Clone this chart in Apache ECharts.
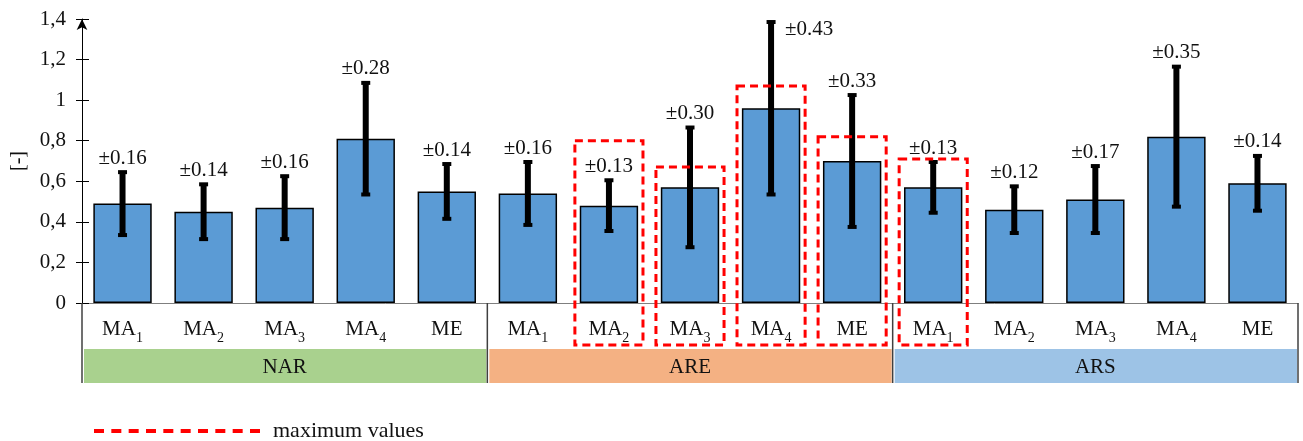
<!DOCTYPE html>
<html>
<head>
<meta charset="utf-8">
<script src="https://cdn.jsdelivr.net/npm/echarts@6/dist/echarts.min.js"></script>
<style>
  html, body { margin: 0; padding: 0; background: #fff; }
  #chart { width: 1303px; height: 441px; }
</style>
</head>
<body>
<div id="chart"></div>
<script>
// Groups and methods along the x axis
const groups = ['NAR', 'ARE', 'ARS'];
const groupColors = ['#a9d18e', '#f4b183', '#9dc3e6'];
const methods = ['MA1', 'MA2', 'MA3', 'MA4', 'ME'];

// Mean values per group
const narMeans = [0.49, 0.45, 0.47, 0.81, 0.55];
const areMeans = [0.54, 0.48, 0.57, 0.96, 0.70];
const arsMeans = [0.57, 0.46, 0.51, 0.82, 0.59];

// Standard deviations per group (±)
const narErr = [0.16, 0.14, 0.16, 0.28, 0.14];
const areErr = [0.16, 0.13, 0.30, 0.43, 0.33];
const arsErr = [0.13, 0.12, 0.17, 0.35, 0.14];

// Bars outlined as maximum values: category index and upper edge of the outline
const maxIdx = [6, 7, 8, 9, 10];
const maxTop = [0.80, 0.67, 1.07, 0.82, 0.71];

const yMin = 0, yMax = 1.4, yStep = 0.2;
const FONT = '"Liberation Serif", "Times New Roman", serif';

const categories = [].concat(methods, methods, methods);
const means = [].concat(narMeans, areMeans, arsMeans);
const errs = [].concat(narErr, areErr, arsErr);

const errData = means.map((m, i) => [i, m - errs[i], m + errs[i], errs[i]]);
const groupData = groups.map((g, k) => [k * methods.length, (k + 1) * methods.length - 1, k]);
const maxData = maxIdx.map((idx, k) => [idx, maxTop[k]]);

function catLabel(v) {
  const base = v.slice(0, 2);
  const sub = v.slice(2);
  return sub ? '{m|' + base + '}{s|' + sub + '}' : '{m|' + base + '}';
}

// Dashed stroke used as the legend symbol
function dashIcon() {
  let d = 'path://';
  const n = 10, dash = 10, period = (166 - dash) / (n - 1);
  for (let k = 0; k < n; k++) {
    const x = (k * period).toFixed(2);
    d += 'M' + x + ',0h' + dash + 'v4h-' + dash + 'z';
  }
  return d;
}

const chart = echarts.init(document.getElementById('chart'));

chart.setOption({
  animation: false,
  backgroundColor: '#fff',
  grid: { left: 82, right: 5, top: 19, bottom: 138, outerBoundsMode: 'none' },
  legend: {
    left: 89,
    top: 415,
    itemWidth: 166,
    itemHeight: 4,
    data: [{ name: 'maximum values', icon: dashIcon() }],
    itemStyle: { color: '#ff0000', borderWidth: 0 },
    textStyle: { fontFamily: FONT, fontSize: 22, color: '#111', padding: [0, 0, 0, 8] }
  },
  xAxis: {
    type: 'category',
    data: categories,
    axisLine: { lineStyle: { color: '#7f7f7f', width: 1 } },
    axisTick: { show: false },
    axisLabel: {
      margin: 16,
      interval: 0,
      formatter: catLabel,
      rich: {
        m: { fontFamily: FONT, fontSize: 21, color: '#111', lineHeight: 26, verticalAlign: 'top' },
        s: { fontFamily: FONT, fontSize: 14, color: '#111', lineHeight: 26, verticalAlign: 'bottom' }
      }
    }
  },
  yAxis: [
    {
      type: 'value',
      min: yMin,
      max: yMax,
      interval: yStep,
      name: '[-]',
      nameLocation: 'middle',
      nameRotate: 90,
      nameGap: 50,
      nameTextStyle: { fontFamily: FONT, fontSize: 20, color: '#111' },
      axisLine: {
        show: true,
        symbol: ['none', 'arrow'],
        symbolSize: [8, 11],
        lineStyle: { color: '#000', width: 1 }
      },
      axisTick: { show: true, length: 6, lineStyle: { color: '#000' } },
      axisLabel: {
        margin: 16,
        fontFamily: FONT,
        fontSize: 21,
        color: '#111',
        formatter: v => String(+v.toFixed(1)).replace('.', ',')
      },
      splitLine: { show: false }
    },
    {
      // inward half of the crossing tick marks
      type: 'value',
      min: yMin,
      max: yMax,
      interval: yStep,
      position: 'left',
      axisLine: { show: false },
      axisTick: { show: true, inside: true, length: 7, lineStyle: { color: '#000' } },
      axisLabel: { show: false },
      splitLine: { show: false }
    }
  ],
  series: [
    {
      type: 'bar',
      name: 'mean',
      data: means,
      barCategoryGap: '28%',
      itemStyle: { color: '#5b9bd5', borderColor: '#000', borderWidth: 1.5 },
      z: 2
    },
    {
      type: 'custom',
      name: 'deviation',
      data: errData,
      clip: false,
      z: 4,
      renderItem: function (params, api) {
        const i = api.value(0);
        const lo = api.coord([i, api.value(1)]);
        const hi = api.coord([i, api.value(2)]);
        const x = hi[0];
        const lw = 6, capW = 9, capH = 4;
        const err = api.value(3);
        const nearTop = api.value(2) + 0.1 > yMax;
        return {
          type: 'group',
          children: [
            { type: 'rect', shape: { x: x - lw / 2, y: hi[1], width: lw, height: lo[1] - hi[1] }, style: { fill: '#000' } },
            { type: 'rect', shape: { x: x - capW / 2, y: hi[1] - 1, width: capW, height: capH }, style: { fill: '#000' } },
            { type: 'rect', shape: { x: x - capW / 2, y: lo[1] - capH + 1, width: capW, height: capH }, style: { fill: '#000' } },
            {
              type: 'text',
              style: {
                text: '±' + err.toFixed(2),
                x: nearTop ? x + 14 : x,
                y: nearTop ? hi[1] + 8 : hi[1] - 13,
                align: nearTop ? 'left' : 'center',
                verticalAlign: 'middle',
                font: '21px ' + FONT,
                fill: '#111'
              }
            }
          ]
        };
      }
    },
    {
      type: 'custom',
      name: 'groups',
      data: groupData,
      clip: false,
      silent: true,
      z: 1,
      renderItem: function (params, api) {
        const s = api.value(0), e = api.value(1), k = api.value(2);
        const half = api.size([1, 0])[0] / 2;
        const left = api.coord([s, 0])[0] - half;
        const right = api.coord([e, 0])[0] + half;
        const y0 = api.coord([s, 0])[1];
        const children = [
          { type: 'rect', shape: { x: left + 2, y: y0 + 46, width: right - left - 3, height: 34 }, style: { fill: groupColors[k] } },
          {
            type: 'text',
            style: {
              text: groups[k], x: (left + right) / 2, y: y0 + 64,
              align: 'center', verticalAlign: 'middle', font: '21px ' + FONT, fill: '#111'
            }
          },
          { type: 'line', shape: { x1: left, y1: y0, x2: left, y2: y0 + 80 }, style: { stroke: '#404040', lineWidth: 1.5 } }
        ];
        if (k === groups.length - 1) {
          children.push({ type: 'line', shape: { x1: right, y1: y0, x2: right, y2: y0 + 80 }, style: { stroke: '#404040', lineWidth: 1.5 } });
        }
        return { type: 'group', children: children };
      }
    },
    {
      type: 'custom',
      name: 'maximum values',
      data: maxData,
      clip: false,
      silent: true,
      z: 5,
      itemStyle: { color: '#ff0000' },
      renderItem: function (params, api) {
        const i = api.value(0);
        const top = api.coord([i, api.value(1)]);
        const base = api.coord([i, 0]);
        const half = api.size([1, 0])[0] * 0.42;
        return {
          type: 'rect',
          shape: { x: top[0] - half, y: top[1], width: half * 2, height: base[1] + 42 - top[1] },
          style: { fill: 'none', stroke: '#ff0000', lineWidth: 3, lineDash: [8, 5] }
        };
      }
    }
  ]
});
</script>
</body>
</html>
